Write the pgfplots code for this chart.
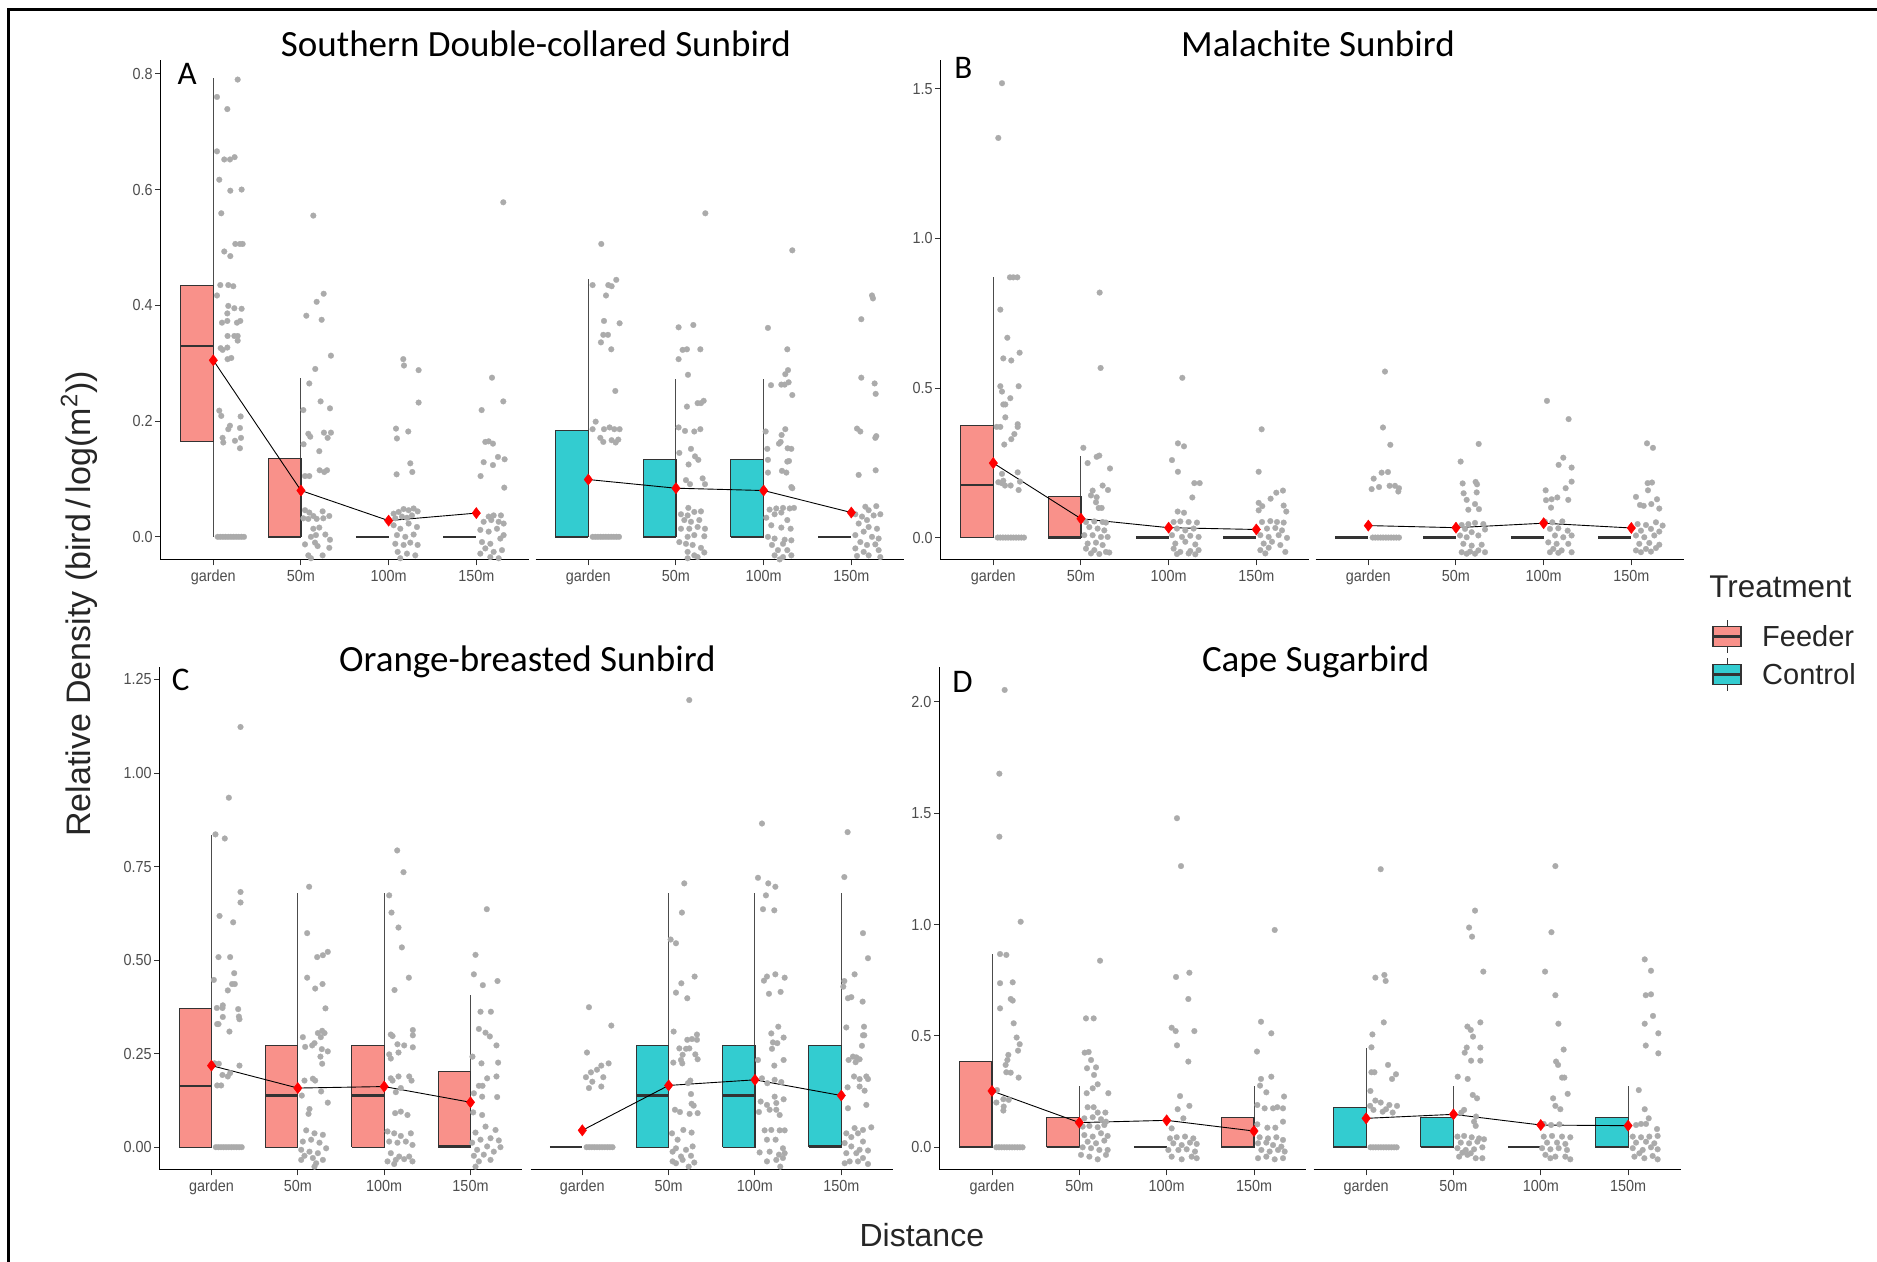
\documentclass[border=0pt]{standalone}
\usepackage{fontspec}
\setmainfont{Liberation Sans}
\newfontfamily\calib{Carlito}
\newfontfamily\tickf[FakeStretch=0.9]{Liberation Sans}
\usepackage{pgfplots}
\pgfplotsset{compat=1.18}

\definecolor{feedfill}{HTML}{F9918A}
\definecolor{ctrlfill}{HTML}{33CCD0}
\definecolor{ptgray}{HTML}{ABABAB}
\definecolor{g20}{HTML}{333333}
\definecolor{g30}{HTML}{4D4D4D}

\pgfplotsset{
  whisk/.style={black!70, line width=0.5pt, mark=none},
  boxst/.style={draw=g20, line width=0.55pt, line join=miter, mark=none},
  medst/.style={g20, line width=1.1pt, mark=none, line cap=butt},
  pts/.style={color=ptgray, only marks, mark=*, mark size=1.45pt, mark options={solid, fill=ptgray, draw=ptgray, line width=0.1pt}},
  mline/.style={black, line width=0.45pt, mark=none},
  mmark/.style={color=red, only marks, mark=diamond*, mark size=2.8pt, mark options={solid, fill=red, draw=red, line width=0.2pt}},
  panel/.style={
    scale only axis, clip=false, anchor=south west,
    xmin=0.4, xmax=4.6, xtick={1,2,3,4}, xticklabels={garden,50m,100m,150m},
    axis x line*=bottom,
    tick align=outside, major tick length=2.75pt,
    axis line style={black, line width=0.5pt},
    tick style={g20, line width=0.5pt},
    xticklabel style={font=\tickf\fontsize{8}{9.6}\selectfont, text=g30, anchor=base, yshift=-8pt},
    yticklabel style={font=\tickf\fontsize{8}{9.6}\selectfont, text=g30, xshift=2.2pt},
  },
  feed/.style={panel, axis y line*=left},
  ctrl/.style={panel, axis y line=none},
}

% #1 left, #2 cat, #3 whisker low, #4 q1, #5 med, #6 q3, #7 whisker high, #8 fill
\newcommand{\bxp}[8]{%
  \addplot[whisk] coordinates {(#2,#3) (#2,#7)};
  \addplot[boxst, fill=#8] coordinates {(#1,#4) (#2,#4) (#2,#6) (#1,#6) (#1,#4)};
  \addplot[medst] coordinates {(#1,#5) (#2,#5)};
}
\newcommand{\zbx}[2]{\addplot[medst] coordinates {(#1,0) (#2,0)};}
\newcommand{\zrow}[1]{\addplot[pts] coordinates {(#1.05,0)(#1.08,0)(#1.11,0)(#1.14,0)(#1.17,0)(#1.20,0)(#1.23,0)(#1.26,0)(#1.29,0)(#1.32,0)(#1.35,0)};}

\begin{document}
\begin{tikzpicture}
\useasboundingbox (0,0) rectangle (938.5pt,631pt);

% frame
\draw[black, line width=1.2pt] (4.3pt,0) -- (4.3pt,626.2pt) -- (938.5pt,626.2pt);

% ================= A feeder
\begin{axis}[feed, at={(80.35pt,351pt)}, width=184.1pt, height=249.75pt,
  ymin=-0.040, ymax=0.823, ytick={0,0.2,0.4,0.6,0.8}, yticklabels={0.0,0.2,0.4,0.6,0.8}]
\bxp{0.625}{1}{0}{0.165}{0.330}{0.435}{0.792}{feedfill}
\bxp{1.625}{2}{0}{0}{0}{0.135}{0.274}{feedfill}
\zbx{2.625}{3}
\zbx{3.625}{4}
\addplot[pts] coordinates {(1.278,0.790)(1.042,0.760)(1.160,0.739)(1.042,0.666)(1.125,0.652)(1.190,0.652)(1.243,0.656)(1.068,0.617)(1.194,0.598)(1.323,0.600)(1.091,0.559)(1.251,0.506)(1.304,0.506)(1.335,0.506)(1.125,0.493)(1.194,0.485)(1.080,0.435)(1.171,0.435)(1.228,0.433)(1.042,0.417)(1.171,0.399)(1.240,0.395)(1.323,0.394)(1.160,0.386)(1.099,0.370)(1.160,0.373)(1.270,0.370)(1.308,0.373)(1.163,0.347)(1.240,0.347)(1.278,0.347)(1.278,0.339)(1.084,0.326)(1.106,0.323)(1.160,0.327)(1.163,0.307)(1.205,0.309)(1.068,0.218)(1.091,0.209)(1.312,0.208)(1.190,0.192)(1.171,0.186)(1.304,0.188)(1.106,0.171)(1.114,0.163)(1.247,0.166)(1.316,0.171)(1.304,0.153)};
\zrow{1}
\addplot[pts] coordinates {(2.141,0.555)(2.259,0.420)(2.179,0.406)(2.061,0.382)(2.236,0.375)(2.342,0.313)(2.163,0.290)(2.095,0.265)(2.224,0.234)(2.331,0.222)(2.027,0.219)(2.084,0.178)(2.106,0.173)(2.262,0.180)(2.342,0.180)(2.304,0.171)(2.030,0.160)(2.209,0.148)(2.213,0.115)(2.297,0.115)(2.266,0.112)(2.046,0.105)(2.095,0.105)(2.046,0.046)(2.095,0.042)(2.141,0.036)(2.247,0.044)(2.323,0.036)(2.027,0.032)(2.084,0.031)(2.179,0.031)(2.255,0.032)(2.141,0.014)(2.209,0.016)(2.114,0)(2.171,0.003)(2.278,0.004)(2.331,-0.005)(2.046,-0.013)(2.160,-0.010)(2.190,-0.016)(2.323,-0.019)(2.084,-0.032)(2.247,-0.032)(2.114,-0.037)};
\addplot[pts] coordinates {(3.167,0.307)(3.175,0.296)(3.342,0.288)(3.342,0.232)(3.084,0.187)(3.095,0.170)(3.224,0.182)(3.247,0.127)(3.270,0.112)(3.091,0.108)(3.057,0.040)(3.114,0.043)(3.171,0.048)(3.228,0.046)(3.285,0.049)(3.331,0.044)(3.076,0.032)(3.152,0.035)(3.209,0.033)(3.266,0.037)(3.057,0.020)(3.133,0.014)(3.228,0.023)(3.323,0.017)(3.095,0.003)(3.190,0)(3.285,0.004)(3.076,-0.012)(3.171,-0.014)(3.247,-0.010)(3.331,-0.014)(3.103,-0.026)(3.209,-0.029)(3.304,-0.032)(3.133,-0.037)};
\addplot[pts] coordinates {(4.308,0.578)(4.179,0.275)(4.308,0.234)(4.061,0.219)(4.103,0.164)(4.141,0.165)(4.190,0.161)(4.084,0.129)(4.190,0.124)(4.247,0.138)(4.323,0.134)(4.049,0.105)(4.319,0.085)(4.141,0.035)(4.198,0.037)(4.281,0.037)(4.084,0.026)(4.171,0.029)(4.255,0.026)(4.312,0.023)(4.046,0.012)(4.141,0.009)(4.236,0.014)(4.312,0.003)(4.065,-0.009)(4.160,-0.012)(4.274,-0.003)(4.103,-0.020)(4.198,-0.026)(4.293,-0.023)(4.160,-0.035)(4.046,-0.029)(4.255,-0.037)};
\addplot[mline] coordinates {(1,0.305)(2,0.080)(3,0.028)(4,0.041)};
\addplot[mmark] coordinates {(1,0.305)(2,0.080)(3,0.028)(4,0.041)};
\end{axis}

% ================= A control
\begin{axis}[ctrl, at={(267.85pt,351pt)}, width=184.1pt, height=249.75pt, ymin=-0.040, ymax=0.823]
\bxp{0.625}{1}{0}{0}{0}{0.184}{0.445}{ctrlfill}
\bxp{1.625}{2}{0}{0}{0}{0.134}{0.273}{ctrlfill}
\bxp{2.625}{3}{0}{0}{0}{0.134}{0.273}{ctrlfill}
\zbx{3.625}{4}
\addplot[pts] coordinates {(1.148,0.506)(1.049,0.435)(1.228,0.435)(1.266,0.433)(1.319,0.444)(1.202,0.417)(1.179,0.373)(1.357,0.369)(1.171,0.349)(1.224,0.349)(1.144,0.336)(1.262,0.324)(1.308,0.252)(1.084,0.199)(1.049,0.186)(1.179,0.186)(1.243,0.189)(1.297,0.186)(1.357,0.186)(1.137,0.171)(1.171,0.164)(1.266,0.167)(1.312,0.163)(1.342,0.168)};
\zrow{1}
\addplot[pts] coordinates {(2.335,0.559)(2.030,0.362)(2.198,0.366)(2.076,0.323)(2.125,0.324)(2.278,0.324)(2.030,0.307)(2.137,0.280)(2.125,0.225)(2.247,0.231)(2.285,0.231)(2.316,0.235)(2.030,0.189)(2.103,0.183)(2.209,0.182)(2.278,0.186)(2.038,0.145)(2.171,0.152)(2.217,0.139)(2.255,0.133)(2.144,0.125)(2.114,0.098)(2.160,0.091)(2.304,0.101)(2.331,0.091)(2.141,0.050)(2.057,0.039)(2.133,0.037)(2.209,0.043)(2.285,0.044)(2.095,0.029)(2.171,0.026)(2.266,0.029)(2.331,0.014)(2.057,0.014)(2.152,0.014)(2.247,0.017)(2.133,0)(2.209,0.003)(2.323,0.001)(2.038,-0.009)(2.114,-0.012)(2.190,-0.014)(2.285,-0.019)(2.133,-0.026)(2.323,-0.027)(2.209,-0.032)(2.133,-0.037)(2.247,-0.035)};
\addplot[pts] coordinates {(3.327,0.495)(3.049,0.361)(3.270,0.324)(3.278,0.288)(3.247,0.281)(3.084,0.262)(3.202,0.263)(3.240,0.263)(3.285,0.267)(3.327,0.245)(3.023,0.182)(3.247,0.186)(3.205,0.176)(3.194,0.164)(3.175,0.161)(3.042,0.152)(3.274,0.153)(3.316,0.152)(3.049,0.133)(3.270,0.130)(3.289,0.131)(3.049,0.111)(3.209,0.114)(3.259,0.111)(3.316,0.086)(3.327,0.084)(3.068,0.047)(3.144,0.049)(3.221,0.050)(3.297,0.049)(3.346,0.050)(3.030,0.033)(3.125,0.039)(3.202,0.042)(3.270,0.029)(3.087,0.020)(3.202,0.016)(3.308,0.014)(3.049,0)(3.125,-0.003)(3.240,-0.005)(3.316,-0.006)(3.095,-0.014)(3.221,-0.012)(3.163,-0.023)(3.270,-0.023)(3.125,-0.032)(3.221,-0.035)(3.316,-0.032)(3.183,-0.039)};
\addplot[pts] coordinates {(4.236,0.417)(4.247,0.412)(4.114,0.376)(4.114,0.275)(4.266,0.265)(4.278,0.247)(4.065,0.187)(4.103,0.182)(4.274,0.171)(4.285,0.174)(4.084,0.107)(4.278,0.115)(4.160,0.052)(4.198,0.046)(4.285,0.053)(4.046,0.039)(4.122,0.035)(4.255,0.037)(4.331,0.039)(4.179,0.029)(4.084,0.023)(4.198,0.017)(4.293,0.014)(4.141,0.009)(4.046,0.003)(4.236,0)(4.312,-0.003)(4.103,-0.009)(4.179,-0.014)(4.274,-0.013)(4.046,-0.020)(4.141,-0.026)(4.312,-0.023)(4.065,-0.033)(4.198,-0.032)(4.331,-0.035)};
\addplot[mline] coordinates {(1,0.099)(2,0.084)(3,0.080)(4,0.042)};
\addplot[mmark] coordinates {(1,0.099)(2,0.084)(3,0.080)(4,0.042)};
\end{axis}

% ================= B feeder
\begin{axis}[feed, at={(470.35pt,351pt)}, width=184.1pt, height=249.75pt,
  ymin=-0.075, ymax=1.595, ytick={0,0.5,1,1.5}, yticklabels={0.0,0.5,1.0,1.5}]
\bxp{0.625}{1}{0}{0}{0.176}{0.375}{0.872}{feedfill}
\bxp{1.625}{2}{0}{0}{0}{0.137}{0.274}{feedfill}
\zbx{2.625}{3}
\zbx{3.625}{4}
\addplot[pts] coordinates {(1.099,1.519)(1.057,1.336)(1.190,0.870)(1.228,0.870)(1.274,0.870)(1.080,0.762)(1.160,0.668)(1.114,0.599)(1.205,0.592)(1.300,0.618)(1.080,0.506)(1.099,0.488)(1.289,0.506)(1.194,0.466)(1.114,0.445)(1.137,0.445)(1.137,0.402)(1.038,0.370)(1.080,0.370)(1.278,0.370)(1.278,0.379)(1.240,0.346)(1.205,0.329)(1.125,0.311)(1.278,0.218)(1.099,0.213)(1.057,0.185)(1.095,0.182)(1.133,0.174)(1.198,0.174)(1.304,0.187)(1.289,0.159)(1.114,0.190)};
\zrow{1}
\addplot[pts] coordinates {(2.213,0.819)(2.224,0.567)(2.027,0.300)(2.179,0.270)(2.209,0.274)(2.076,0.249)(2.331,0.231)(2.247,0.174)(2.133,0.157)(2.114,0.141)(2.308,0.159)(2.179,0.135)(2.171,0.118)(2.202,0.099)(2.236,0.099)(2.057,0.052)(2.152,0.054)(2.247,0.052)(2.285,0.050)(2.095,0.035)(2.190,0.030)(2.266,0.024)(2.038,0.008)(2.133,0.008)(2.228,0.002)(2.304,0.002)(2.076,-0.020)(2.171,-0.017)(2.247,-0.025)(2.057,-0.037)(2.152,-0.042)(2.285,-0.048)(2.114,-0.053)(2.209,-0.055)(2.323,-0.050)};
\addplot[pts] coordinates {(3.156,0.534)(3.106,0.315)(3.175,0.305)(3.038,0.259)(3.106,0.220)(3.293,0.182)(3.354,0.182)(3.270,0.134)(3.103,0.087)(3.175,0.083)(3.057,0.052)(3.133,0.054)(3.228,0.052)(3.323,0.050)(3.095,0.030)(3.190,0.024)(3.285,0.030)(3.038,0.008)(3.152,0.002)(3.247,0.006)(3.342,0.002)(3.076,-0.020)(3.190,-0.014)(3.304,-0.023)(3.057,-0.037)(3.133,-0.048)(3.247,-0.045)(3.342,-0.042)(3.095,-0.055)(3.228,-0.053)(3.304,-0.056)};
\addplot[pts] coordinates {(4.061,0.362)(4.027,0.220)(4.304,0.157)(4.228,0.150)(4.163,0.130)(4.027,0.116)(4.068,0.105)(4.312,0.107)(4.342,0.087)(4.027,0.091)(4.065,0.052)(4.160,0.055)(4.236,0.052)(4.312,0.050)(4.122,0.030)(4.217,0.032)(4.293,0.024)(4.046,0.008)(4.141,0.002)(4.255,0.008)(4.350,-0.001)(4.084,-0.020)(4.179,-0.014)(4.274,-0.025)(4.046,-0.042)(4.141,-0.034)(4.103,-0.053)(4.331,-0.048)};
\addplot[mline] coordinates {(1,0.249)(2,0.063)(3,0.033)(4,0.027)};
\addplot[mmark] coordinates {(1,0.249)(2,0.063)(3,0.033)(4,0.027)};
\end{axis}

% ================= B control
\begin{axis}[ctrl, at={(657.85pt,351pt)}, width=184.1pt, height=249.75pt, ymin=-0.075, ymax=1.595]
\zbx{0.625}{1}
\zbx{1.625}{2}
\zbx{2.625}{3}
\zbx{3.625}{4}
\addplot[pts] coordinates {(1.190,0.555)(1.167,0.368)(1.251,0.310)(1.152,0.217)(1.224,0.219)(1.061,0.197)(1.038,0.162)(1.122,0.169)(1.243,0.173)(1.304,0.173)(1.350,0.165)(1.342,0.154)};
\zrow{1}
\addplot[pts] coordinates {(2.259,0.313)(2.053,0.254)(2.076,0.181)(2.224,0.186)(2.240,0.178)(2.087,0.148)(2.236,0.151)(2.122,0.126)(2.217,0.112)(2.141,0.093)(2.262,0.095)(2.065,0.042)(2.141,0.045)(2.217,0.049)(2.312,0.045)(2.103,0.029)(2.179,0.018)(2.331,0.027)(2.046,0.007)(2.122,0.001)(2.255,0.007)(2.084,-0.021)(2.179,-0.027)(2.293,-0.024)(2.065,-0.049)(2.160,-0.047)(2.255,-0.043)(2.331,-0.049)(2.122,-0.054)(2.217,-0.054)};
\addplot[pts] coordinates {(3.038,0.457)(3.285,0.396)(3.224,0.267)(3.171,0.243)(3.319,0.234)(3.319,0.187)(3.023,0.158)(3.251,0.165)(3.027,0.125)(3.091,0.128)(3.156,0.134)(3.281,0.126)(3.084,0.100)(3.099,0.051)(3.213,0.054)(3.015,0.053)(3.072,0.029)(3.167,0.031)(3.274,0.023)(3.129,0.007)(3.224,0.001)(3.319,0.007)(3.053,-0.016)(3.148,-0.021)(3.281,-0.021)(3.110,-0.038)(3.205,-0.043)(3.319,-0.049)(3.072,-0.049)(3.167,-0.051)};
\addplot[pts] coordinates {(4.179,0.315)(4.247,0.300)(4.186,0.182)(4.236,0.184)(4.190,0.158)(4.053,0.136)(4.293,0.128)(4.099,0.109)(4.141,0.106)(4.228,0.112)(4.319,0.097)(4.072,0.045)(4.167,0.042)(4.281,0.051)(4.357,0.040)(4.110,0.023)(4.224,0.029)(4.319,0.020)(4.053,0.007)(4.148,0.001)(4.262,0.007)(4.091,-0.021)(4.205,-0.018)(4.319,-0.024)(4.053,-0.043)(4.167,-0.038)(4.281,-0.035)(4.110,-0.049)(4.224,-0.047)};
\addplot[mline] coordinates {(1,0.040)(2,0.033)(3,0.048)(4,0.032)};
\addplot[mmark] coordinates {(1,0.040)(2,0.033)(3,0.048)(4,0.032)};
\end{axis}

% ================= C feeder
\begin{axis}[feed, at={(79.85pt,46pt)}, width=181.3pt, height=251.25pt,
  ymin=-0.061, ymax=1.282, ytick={0,0.25,0.5,0.75,1,1.25}, yticklabels={0.00,0.25,0.50,0.75,1.00,1.25}]
\bxp{0.625}{1}{0}{0}{0.164}{0.371}{0.834}{feedfill}
\bxp{1.625}{2}{0}{0}{0.138}{0.272}{0.679}{feedfill}
\bxp{2.625}{3}{0}{0}{0.138}{0.272}{0.679}{feedfill}
\bxp{3.625}{4}{0}{0}{0.002}{0.202}{0.407}{feedfill}
\addplot[pts] coordinates {(1.336,1.123)(1.201,0.934)(1.046,0.836)(1.154,0.825)(1.336,0.682)(1.336,0.654)(1.093,0.618)(1.251,0.601)(1.081,0.508)(1.216,0.508)(1.027,0.447)(1.263,0.465)(1.189,0.419)(1.239,0.436)(1.270,0.436)(1.062,0.372)(1.131,0.379)(1.127,0.372)(1.309,0.369)(1.324,0.342)(1.317,0.349)(1.131,0.348)(1.066,0.329)(1.081,0.329)(1.208,0.309)(1.035,0.224)(1.085,0.223)(1.324,0.218)(1.127,0.193)(1.189,0.189)(1.216,0.198)(1.066,0.165)(1.112,0.165)};
\zrow{1}
\addplot[pts] coordinates {(2.131,0.696)(2.108,0.572)(2.224,0.508)(2.290,0.513)(2.347,0.522)(2.108,0.453)(2.286,0.436)(2.201,0.424)(2.320,0.371)(2.058,0.294)(2.232,0.305)(2.282,0.311)(2.309,0.305)(2.266,0.294)(2.085,0.268)(2.166,0.272)(2.193,0.278)(2.278,0.262)(2.347,0.256)(2.262,0.242)(2.282,0.223)(2.077,0.178)(2.174,0.183)(2.201,0.178)(2.046,0.138)(2.270,0.149)(2.347,0.119)(2.135,0.102)(2.124,0.089)(2.097,0.045)(2.193,0.037)(2.290,0.033)(2.058,0.015)(2.154,0.020)(2.251,0.012)(2.328,-0.003)(2.039,-0.007)(2.135,-0.012)(2.232,-0.016)(2.077,-0.023)(2.174,-0.029)(2.290,-0.034)(2.039,-0.034)(2.212,-0.043)(2.193,-0.052)};
\addplot[pts] coordinates {(3.151,0.793)(3.224,0.735)(3.058,0.673)(3.085,0.627)(3.166,0.587)(3.205,0.534)(3.286,0.453)(3.120,0.420)(3.077,0.301)(3.097,0.297)(3.332,0.313)(3.332,0.299)(3.058,0.248)(3.077,0.237)(3.154,0.275)(3.166,0.253)(3.232,0.272)(3.332,0.267)(3.077,0.184)(3.097,0.178)(3.166,0.189)(3.290,0.189)(3.317,0.178)(3.135,0.147)(3.193,0.158)(3.127,0.091)(3.193,0.095)(3.270,0.086)(3.039,0.042)(3.116,0.037)(3.193,0.030)(3.309,0.037)(3.058,0.015)(3.154,0.012)(3.251,0.015)(3.328,0.006)(3.077,-0.016)(3.174,-0.025)(3.290,-0.025)(3.039,-0.038)(3.135,-0.034)(3.232,-0.032)(3.328,-0.038)(3.116,-0.045)};
\addplot[pts] coordinates {(4.189,0.636)(4.058,0.514)(4.039,0.462)(4.143,0.433)(4.313,0.444)(4.116,0.362)(4.236,0.362)(4.097,0.316)(4.174,0.306)(4.224,0.296)(4.301,0.272)(4.023,0.242)(4.127,0.224)(4.320,0.226)(4.193,0.184)(4.301,0.189)(4.097,0.164)(4.139,0.164)(4.039,0.144)(4.135,0.135)(4.309,0.134)(4.031,0.093)(4.135,0.086)(4.058,0.039)(4.174,0.055)(4.290,0.046)(4.232,0.024)(4.116,0.020)(4.328,0.018)(4.019,0.012)(4.077,-0.007)(4.193,0.002)(4.270,-0.012)(4.154,-0.020)(4.039,-0.023)(4.232,-0.034)(4.097,-0.038)(4.347,0)(4.058,-0.052)};
\addplot[mline] coordinates {(1,0.218)(2,0.158)(3,0.162)(4,0.120)};
\addplot[mmark] coordinates {(1,0.218)(2,0.158)(3,0.162)(4,0.120)};
\end{axis}

% ================= C control
\begin{axis}[ctrl, at={(265.25pt,46pt)}, width=181.3pt, height=251.25pt, ymin=-0.061, ymax=1.282]
\zbx{0.625}{1}
\bxp{1.625}{2}{0}{0}{0.138}{0.272}{0.679}{ctrlfill}
\bxp{2.625}{3}{0}{0}{0.138}{0.272}{0.679}{ctrlfill}
\bxp{3.625}{4}{0}{0}{0.002}{0.272}{0.679}{ctrlfill}
\addplot[pts] coordinates {(1.077,0.374)(1.336,0.325)(1.054,0.253)(1.220,0.218)(1.305,0.224)(1.100,0.200)(1.170,0.207)(1.042,0.187)(1.243,0.187)(1.116,0.175)(1.077,0.158)(1.220,0.162)};
\zrow{1}
\addplot[pts] coordinates {(2.239,1.195)(2.181,0.705)(2.154,0.627)(2.023,0.555)(2.085,0.545)(2.147,0.438)(2.301,0.456)(2.085,0.413)(2.216,0.398)(2.058,0.309)(2.216,0.287)(2.270,0.289)(2.328,0.301)(2.328,0.287)(2.124,0.264)(2.201,0.263)(2.240,0.264)(2.162,0.247)(2.309,0.248)(2.336,0.235)(2.054,0.226)(2.143,0.233)(2.158,0.224)(2.251,0.178)(2.224,0.171)(2.259,0.142)(2.266,0.116)(2.290,0.111)(2.336,0.091)(2.243,0.089)(2.073,0.100)(2.131,0.094)(2.039,0.037)(2.104,0.020)(2.170,0.046)(2.266,0.039)(2.085,-0.003)(2.201,-0.007)(2.278,0.002)(2.046,-0.012)(2.143,-0.025)(2.259,-0.023)(2.085,-0.043)(2.162,-0.034)(2.297,-0.041)(2.232,-0.052)(2.046,-0.038)};
\addplot[pts] coordinates {(3.081,0.865)(3.035,0.720)(3.154,0.705)(3.236,0.696)(3.127,0.673)(3.093,0.636)(3.224,0.633)(3.104,0.445)(3.139,0.456)(3.236,0.462)(3.344,0.453)(3.162,0.410)(3.297,0.415)(3.270,0.322)(3.189,0.304)(3.332,0.293)(3.208,0.280)(3.259,0.278)(3.197,0.263)(3.035,0.233)(3.332,0.233)(3.224,0.218)(3.081,0.184)(3.143,0.171)(3.228,0.180)(3.305,0.174)(3.066,0.122)(3.139,0.113)(3.228,0.135)(3.332,0.128)(3.247,0.118)(3.046,0.094)(3.170,0.100)(3.247,0.100)(3.286,0.086)(3.112,0.045)(3.189,0.046)(3.286,0.045)(3.344,0.045)(3.139,0.020)(3.239,0.020)(3.324,-0.003)(3.054,-0.014)(3.170,-0.012)(3.278,-0.020)(3.344,-0.016)(3.139,-0.038)(3.247,-0.034)(3.324,-0.029)(3.293,-0.052)};
\addplot[pts] coordinates {(4.073,0.842)(4.035,0.722)(4.251,0.572)(4.309,0.505)(4.035,0.444)(4.154,0.462)(4.023,0.429)(4.077,0.398)(4.116,0.401)(4.247,0.389)(4.058,0.320)(4.263,0.322)(4.251,0.299)(4.266,0.299)(4.239,0.271)(4.085,0.233)(4.135,0.242)(4.174,0.240)(4.212,0.235)(4.166,0.227)(4.147,0.189)(4.212,0.182)(4.290,0.189)(4.309,0.182)(4.073,0.160)(4.212,0.162)(4.270,0.151)(4.290,0.113)(4.077,0.104)(4.154,0.051)(4.251,0.046)(4.347,0.053)(4.058,0.037)(4.116,0.027)(4.193,0.037)(4.251,0.015)(4.039,0.011)(4.116,0.002)(4.212,-0.007)(4.309,-0.009)(4.058,-0.016)(4.174,-0.016)(4.251,-0.029)(4.097,-0.038)(4.193,-0.038)(4.309,-0.045)(4.039,-0.043)};
\addplot[mline] coordinates {(1,0.045)(2,0.165)(3,0.180)(4,0.138)};
\addplot[mmark] coordinates {(1,0.045)(2,0.165)(3,0.180)(4,0.138)};
\end{axis}

% ================= D feeder
\begin{axis}[feed, at={(469.8pt,46pt)}, width=183.4pt, height=251.25pt,
  ymin=-0.102, ymax=2.155, ytick={0,0.5,1,1.5,2}, yticklabels={0.0,0.5,1.0,1.5,2.0}]
\bxp{0.625}{1}{0}{0}{0}{0.385}{0.868}{feedfill}
\bxp{1.625}{2}{0}{0}{0}{0.135}{0.275}{feedfill}
\zbx{2.625}{3}
\bxp{3.625}{4}{0}{0}{0}{0.135}{0.275}{feedfill}
\addplot[pts] coordinates {(1.145,2.054)(1.084,1.678)(1.084,1.395)(1.328,1.013)(1.092,0.868)(1.164,0.864)(1.092,0.737)(1.237,0.741)(1.214,0.666)(1.237,0.659)(1.092,0.624)(1.248,0.557)(1.282,0.493)(1.317,0.463)(1.298,0.434)(1.187,0.415)(1.176,0.392)(1.156,0.370)(1.164,0.337)(1.214,0.335)(1.305,0.313)(1.057,0.257)(1.130,0.216)(1.191,0.213)(1.050,0.201)(1.134,0.183)(1.130,0.165)};
\zrow{1}
\addplot[pts] coordinates {(2.237,0.838)(2.076,0.579)(2.164,0.579)(2.061,0.425)(2.107,0.428)(2.134,0.392)(2.088,0.355)(2.191,0.359)(2.168,0.325)(2.153,0.265)(2.210,0.283)(2.084,0.243)(2.332,0.243)(2.095,0.180)(2.164,0.180)(2.210,0.156)(2.298,0.156)(2.057,0.130)(2.153,0.135)(2.248,0.126)(2.305,0.115)(2.038,0.093)(2.115,0.096)(2.210,0.090)(2.286,0.100)(2.057,0.055)(2.153,0.048)(2.248,0.063)(2.324,0.051)(2.095,0.025)(2.191,0.018)(2.286,0.030)(2.038,0)(2.134,-0.004)(2.229,-0.012)(2.324,-0.012)(2.019,-0.034)(2.115,-0.042)(2.210,-0.054)(2.305,-0.034)};
\addplot[pts] coordinates {(3.118,1.478)(3.164,1.263)(3.107,0.765)(3.260,0.784)(3.248,0.666)(3.057,0.537)(3.103,0.522)(3.317,0.522)(3.118,0.458)(3.248,0.385)(3.153,0.230)(3.260,0.186)(3.126,0.171)(3.191,0.130)(3.057,0.085)(3.038,0.040)(3.115,0.045)(3.210,0.048)(3.305,0.040)(3.076,0.018)(3.172,0.010)(3.267,0.021)(3.344,0.015)(3.019,-0.012)(3.134,-0.012)(3.229,-0.009)(3.324,-0.019)(3.057,-0.042)(3.172,-0.054)(3.286,-0.042)(3.344,-0.049)};
\addplot[pts] coordinates {(4.237,0.976)(4.080,0.564)(4.198,0.512)(4.034,0.430)(4.080,0.307)(4.198,0.317)(4.069,0.277)(4.141,0.247)(4.344,0.228)(4.038,0.190)(4.122,0.175)(4.218,0.175)(4.267,0.180)(4.332,0.175)(4.332,0.115)(4.038,0.103)(4.153,0.088)(4.244,0.088)(4.065,0.045)(4.160,0.040)(4.256,0.045)(4.332,0.033)(4.046,0.018)(4.141,0.021)(4.218,0.010)(4.313,0.003)(4.084,-0.012)(4.179,-0.019)(4.275,-0.012)(4.351,-0.019)(4.046,-0.049)(4.141,-0.042)(4.237,-0.054)(4.332,-0.049)};
\addplot[mline] coordinates {(1,0.253)(2,0.111)(3,0.121)(4,0.073)};
\addplot[mmark] coordinates {(1,0.253)(2,0.111)(3,0.121)(4,0.073)};
\end{axis}

% ================= D control
\begin{axis}[ctrl, at={(656.85pt,46pt)}, width=183.4pt, height=251.25pt, ymin=-0.102, ymax=2.155]
\bxp{0.625}{1}{0}{0}{0}{0.180}{0.445}{ctrlfill}
\bxp{1.625}{2}{0}{0}{0}{0.135}{0.275}{ctrlfill}
\zbx{2.625}{3}
\bxp{3.625}{4}{0}{0}{0}{0.135}{0.275}{ctrlfill}
\addplot[pts] coordinates {(1.167,1.249)(1.106,0.762)(1.209,0.774)(1.224,0.747)(1.202,0.561)(1.072,0.507)(1.061,0.449)(1.251,0.370)(1.061,0.337)(1.095,0.337)(1.342,0.328)(1.297,0.307)(1.049,0.253)(1.106,0.210)(1.167,0.201)(1.046,0.186)(1.084,0.168)(1.190,0.160)(1.266,0.190)(1.304,0.156)(1.354,0.186)(1.228,0.171)};
\zrow{1}
\addplot[pts] coordinates {(2.247,1.063)(2.179,0.987)(2.213,0.946)(2.342,0.789)(2.308,0.561)(2.160,0.542)(2.198,0.527)(2.224,0.497)(2.152,0.448)(2.129,0.425)(2.308,0.448)(2.202,0.389)(2.308,0.389)(2.049,0.317)(2.163,0.307)(2.221,0.235)(2.270,0.220)(2.122,0.168)(2.091,0.156)(2.259,0.138)(2.236,0.115)(2.255,0.096)(2.046,0.048)(2.122,0.051)(2.209,0.045)(2.293,0.040)(2.350,0.036)(2.084,0.021)(2.179,0.018)(2.274,0.025)(2.046,-0.004)(2.141,-0.012)(2.236,-0.009)(2.331,0)(2.065,-0.042)(2.160,-0.034)(2.255,-0.049)(2.331,-0.049)(2.103,-0.024)(2.198,-0.027)};
\addplot[pts] coordinates {(3.167,1.263)(3.122,0.966)(3.049,0.789)(3.167,0.683)(3.202,0.555)(3.262,0.439)(3.175,0.385)(3.198,0.370)(3.243,0.313)(3.270,0.313)(3.308,0.240)(3.141,0.220)(3.167,0.186)(3.224,0.171)(3.118,0.100)(3.213,0.103)(3.034,0.105)(3.034,0.048)(3.129,0.051)(3.243,0.048)(3.338,0.045)(3.072,0.021)(3.186,0.021)(3.281,0.015)(3.015,-0.004)(3.110,-0.009)(3.205,-0.004)(3.300,-0.012)(3.053,-0.034)(3.167,-0.042)(3.281,-0.042)(3.338,-0.054)(3.110,-0.049)};
\addplot[pts] coordinates {(4.190,0.844)(4.262,0.793)(4.202,0.683)(4.262,0.687)(4.285,0.590)(4.190,0.555)(4.346,0.512)(4.202,0.457)(4.346,0.422)(4.122,0.257)(4.190,0.171)(4.236,0.130)(4.205,0.105)(4.148,0.105)(4.091,0.100)(4.331,0.082)(4.053,0.048)(4.148,0.045)(4.243,0.048)(4.338,0.051)(4.091,0.021)(4.205,0.025)(4.300,0.018)(4.053,-0.004)(4.167,-0.012)(4.262,0)(4.338,-0.009)(4.072,-0.042)(4.186,-0.049)(4.281,-0.039)(4.338,-0.054)(4.129,-0.027)};
\addplot[mline] coordinates {(1,0.130)(2,0.148)(3,0.100)(4,0.097)};
\addplot[mmark] coordinates {(1,0.130)(2,0.148)(3,0.100)(4,0.097)};
\end{axis}

% titles
\node[anchor=base, font=\calib\fontsize{18.5}{22}\selectfont] at (268pt,602.5pt) {Southern Double-collared Sunbird};
\node[anchor=base, font=\calib\fontsize{18.5}{22}\selectfont] at (659pt,602.5pt) {Malachite Sunbird};
\node[anchor=base, font=\calib\fontsize{18.5}{22}\selectfont] at (263.7pt,295.1pt) {Orange-breasted Sunbird};
\node[anchor=base, font=\calib\fontsize{18.5}{22}\selectfont] at (657.8pt,295.1pt) {Cape Sugarbird};
% panel letters
\node[anchor=base west, inner sep=0pt, font=\calib\fontsize{16.5}{20}\selectfont] at (88.6pt,588.9pt) {A};
\node[anchor=base west, inner sep=0pt, font=\calib\fontsize{16.5}{20}\selectfont] at (477pt,591.5pt) {B};
\node[anchor=base west, inner sep=0pt, font=\calib\fontsize{16.5}{20}\selectfont] at (85.7pt,285.6pt) {C};
\node[anchor=base west, inner sep=0pt, font=\calib\fontsize{16.5}{20}\selectfont] at (476pt,284.8pt) {D};
% axis titles
\node[anchor=base, rotate=90, font=\fontsize{17}{20}\selectfont, text=black!85] at (45pt,329pt) {Relative Density (bird\,/\,log(m\textsuperscript{2}))};
\node[anchor=base, font=\fontsize{16}{19}\selectfont, text=black!85] at (460.9pt,8pt) {Distance};
% legend
\node[anchor=base west, inner sep=0pt, font=\fontsize{15.7}{19}\selectfont, text=black!85] at (854.5pt,332pt) {Treatment};
\draw[g20, line width=0.5pt] (863.5pt,304.5pt) -- (863.5pt,321.1pt);
\draw[g20, line width=0.55pt, fill=feedfill] (856.5pt,307.8pt) rectangle (870.5pt,317.7pt);
\draw[g20, line width=1.1pt] (856.5pt,312.75pt) -- (870.5pt,312.75pt);
\draw[g20, line width=0.5pt] (863.5pt,285.5pt) -- (863.5pt,301.9pt);
\draw[g20, line width=0.55pt, fill=ctrlfill] (856.5pt,288.8pt) rectangle (870.5pt,298.7pt);
\draw[g20, line width=1.1pt] (856.5pt,293.75pt) -- (870.5pt,293.75pt);
\node[anchor=base west, inner sep=0pt, font=\fontsize{14.5}{17}\selectfont, text=black!85] at (880.9pt,307.5pt) {Feeder};
\node[anchor=base west, inner sep=0pt, font=\fontsize{14.5}{17}\selectfont, text=black!85] at (880.9pt,288.6pt) {Control};
\end{tikzpicture}
\end{document}
